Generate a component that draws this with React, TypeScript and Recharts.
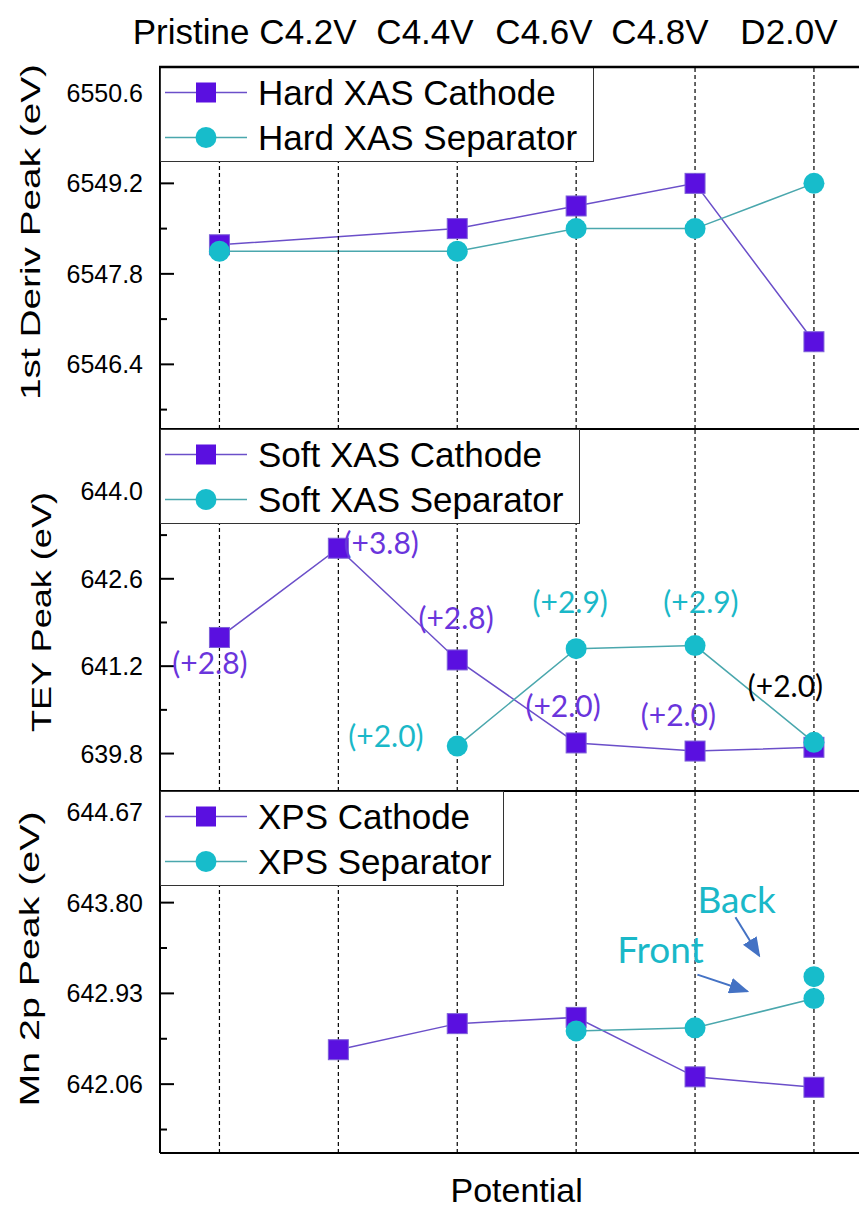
import React from 'react';
import {
  LineChart,
  Line,
  XAxis,
  YAxis,
  ReferenceLine,
  ReferenceDot,
  Legend,
} from 'recharts';

// categories along the potential axis
const categories = ['Pristine', 'C4.2V', 'C4.4V', 'C4.6V', 'C4.8V', 'D2.0V'];
const topLabels = ['Pristine', 'C4.2V', 'C4.4V', 'C4.6V', 'C4.8V', 'D2.0V'];

// hard XAS, 1st derivative peak (eV)
const hardCathode = [6548.25, null, 6548.5, 6548.85, 6549.2, 6546.75];
const hardSeparator = [6548.15, null, 6548.15, 6548.5, 6548.5, 6549.2];

// soft XAS, TEY peak (eV)
const softCathode = [641.66, 643.09, 641.3, 639.97, 639.84, 639.9];
const softSeparator = [null, null, 639.92, 641.48, 641.53, 639.98];

// XPS, Mn 2p peak (eV)
const xpsCathode = [null, 642.39, 642.64, 642.7, 642.13, 642.03];
const xpsSeparator = [null, null, null, 642.57, 642.6, 642.88];
const xpsSeparatorBack = [null, null, null, null, null, 643.09];

// y ticks
const hardMajor = [6546.4, 6547.8, 6549.2, 6550.6];
const hardMinor = [6545.7, 6547.1, 6548.5, 6549.9];
const softMajor = [639.8, 641.2, 642.6, 644.0];
const softMinor = [640.5, 641.9, 643.3, 644.7];
const xpsMajor = [642.06, 642.93, 643.8, 644.67];
const xpsMinor = [641.625, 642.495, 643.365, 644.235];

const FONT = '"Liberation Sans", Arial, sans-serif';
const NOTE_FONT = 'Lato, "Open Sans", sans-serif';
const CATHODE_FILL = '#5a10e0';
const CATHODE_LINE = '#6b4fc9';
const SEP_FILL = '#17bccb';
const SEP_LINE = '#4aa7ad';
const PURPLE_TEXT = '#6a35dc';
const CYAN_TEXT = '#1ab8c8';
const ARROW = '#4472c4';

// annotations (shift values) in panel 2, placed in data coordinates
const softNotes = [
  { x: -0.08, y: 641.25, text: '(+2.8)', color: PURPLE_TEXT },
  { x: 1.36, y: 643.17, text: '(+3.8)', color: PURPLE_TEXT },
  { x: 1.99, y: 641.97, text: '(+2.8)', color: PURPLE_TEXT },
  { x: 2.95, y: 642.23, text: '(+2.9)', color: CYAN_TEXT },
  { x: 4.05, y: 642.23, text: '(+2.9)', color: CYAN_TEXT },
  { x: 1.4, y: 640.07, text: '(+2.0)', color: CYAN_TEXT },
  { x: 2.89, y: 640.55, text: '(+2.0)', color: PURPLE_TEXT },
  { x: 3.86, y: 640.42, text: '(+2.0)', color: PURPLE_TEXT },
  { x: 4.76, y: 640.88, text: '(+2.0)', color: '#000' },
];

const xpsNotes = [
  { x: 4.35, y: 643.83, text: 'Back', color: CYAN_TEXT },
  { x: 3.71, y: 643.35, text: 'Front', color: CYAN_TEXT },
];

const xpsArrows = [
  [{ x: 4.34, y: 643.66 }, { x: 4.54, y: 643.29 }],
  [{ x: 4.02, y: 643.11 }, { x: 4.44, y: 642.95 }],
];

const PLOT_LEFT = 152;
const PLOT_W = 713.4;
const PLOT_H = 362;
const M = 3;
const AX = { stroke: '#000', strokeWidth: 2 };

const buildRows = (a: (number | null)[], b: (number | null)[], c?: (number | null)[]) =>
  categories.map((cat, i) => ({ idx: i, cat, cathode: a[i], separator: b[i], back: c ? c[i] : null }));

const SquareDot = (p: any) => {
  if (p.cx == null || p.cy == null || p.value == null) return <g key={p.key} />;
  return (
    <rect key={p.key} x={p.cx - 10} y={p.cy - 10} width={20} height={20} fill={CATHODE_FILL} stroke="#7d60d8" strokeWidth={1} />
  );
};

const CircleDot = (p: any) => {
  if (p.cx == null || p.cy == null || p.value == null) return <g key={p.key} />;
  return <circle key={p.key} cx={p.cx} cy={p.cy} r={10.5} fill={SEP_FILL} />;
};

const AxisTick = (props: any) => {
  const { x, y, payload, major, digits } = props;
  const isMajor = major.some((m: number) => Math.abs(m - payload.value) < 1e-6);
  return (
    <g>
      <line x1={x} x2={x + (isMajor ? 14 : 7)} y1={y} y2={y} stroke="#000" strokeWidth={2} />
      {isMajor && (
        <text x={x - 17} y={y} dy="0.36em" textAnchor="end" fontSize={25} fontFamily={FONT} fill="#000">
          {payload.value.toFixed(digits)}
        </text>
      )}
    </g>
  );
};

const renderLegend = (width: number) => (props: any) => {
  const items = (props.payload || []).filter((e: any) => e.type !== 'none');
  return (
    <div
      style={{
        width,
        height: 95,
        boxSizing: 'border-box',
        border: '1.5px solid #333',
        background: '#fff',
        paddingTop: 2,
      }}
    >
      {items.map((e: any, i: number) => (
        <div key={`legend-${i}`} style={{ display: 'flex', alignItems: 'center', height: 45 }}>
          <svg width={97} height={45} style={{ flexShrink: 0 }}>
            <line x1={4} x2={86} y1={22.5} y2={22.5} stroke={e.color} strokeWidth={1.5} />
            {e.type === 'square' ? (
              <rect x={35} y={12.5} width={20} height={20} fill={CATHODE_FILL} />
            ) : (
              <circle cx={45} cy={22.5} r={10.5} fill={SEP_FILL} />
            )}
          </svg>
          <span style={{ fontSize: 35, fontFamily: FONT, color: '#000', whiteSpace: 'nowrap' }}>{e.value}</span>
        </div>
      ))}
    </div>
  );
};

interface PanelProps {
  top: number;
  rows: any[];
  names: string[];
  domain: [number, number];
  major: number[];
  minor: number[];
  digits: number;
  title: string;
  titleX: number;
  titleY: number;
  titleLength: number;
  legendWidth: number;
  notes?: { x: number; y: number; text: string; color: string }[];
  noteSize?: number;
  arrows?: { x: number; y: number }[][];
  showPotential?: boolean;
}

const Panel = (p: PanelProps) => {
  const axisH = p.showPotential ? 60 : 1;
  const height = M + PLOT_H + axisH + M;
  return (
    <div style={{ position: 'absolute', left: 0, top: p.top }}>
      <LineChart
        width={PLOT_LEFT + PLOT_W}
        height={height}
        data={p.rows}
        margin={{ top: M, right: 0, bottom: M, left: 0 }}
      >
        <XAxis
          type="number"
          dataKey="idx"
          domain={[-0.5, 5.5]}
          ticks={[0, 1, 2, 3, 4, 5]}
          tick={false}
          tickLine={false}
          axisLine={AX}
          height={axisH}
          allowDataOverflow
          label={
            p.showPotential
              ? () => (
                  <text
                    x={PLOT_LEFT + PLOT_W / 2}
                    y={M + PLOT_H + 49}
                    textAnchor="middle"
                    fontSize={34}
                    fontFamily={FONT}
                    fill="#000"
                  >
                    Potential
                  </text>
                )
              : undefined
          }
        />
        <YAxis
          type="number"
          domain={p.domain}
          ticks={[...p.major, ...p.minor].sort((a, b) => a - b)}
          interval={0}
          width={PLOT_LEFT}
          tickSize={0}
          tickMargin={0}
          tickLine={false}
          axisLine={AX}
          allowDataOverflow
          tick={(t: any) => <AxisTick {...t} major={p.major} digits={p.digits} />}
          label={() => (
            <text
              transform={`translate(${p.titleX},${p.titleY}) rotate(-90)`}
              textAnchor="middle"
              fontSize={27}
              fontFamily={FONT}
              fill="#000"
              textLength={p.titleLength}
              lengthAdjust="spacingAndGlyphs"
            >
              {p.title}
            </text>
          )}
        />
        <Line
          dataKey="cathode"
          name={p.names[0]}
          legendType="square"
          stroke={CATHODE_LINE}
          strokeWidth={1.5}
          dot={SquareDot}
          activeDot={false}
          connectNulls
          isAnimationActive={false}
        />
        <Line
          dataKey="separator"
          name={p.names[1]}
          legendType="circle"
          stroke={SEP_LINE}
          strokeWidth={1.5}
          dot={CircleDot}
          activeDot={false}
          connectNulls
          isAnimationActive={false}
        />
        <Line
          dataKey="back"
          name="back"
          legendType="none"
          stroke="none"
          dot={CircleDot}
          activeDot={false}
          isAnimationActive={false}
        />
        {categories.map((c, i) => (
          <ReferenceLine key={c} x={i} stroke="#000" strokeWidth={1.2} strokeDasharray="4 3" />
        ))}
        {(p.notes || []).map((n, i) => (
          <ReferenceDot
            key={`note-${i}`}
            x={n.x}
            y={n.y}
            r={0}
            fill="none"
            stroke="none"
            label={{
              value: n.text,
              position: 'center',
              fill: n.color,
              fontSize: p.noteSize || 30,
              fontFamily: NOTE_FONT,
            }}
          />
        ))}
        {(p.arrows || []).map((seg, i) => (
          <ReferenceLine
            key={`arrow-${i}`}
            segment={seg}
            stroke={ARROW}
            strokeWidth={2}
            markerEnd="url(#arrowHead)"
          />
        ))}
        <Legend
          layout="vertical"
          align="center"
          verticalAlign="middle"
          content={renderLegend(p.legendWidth)}
          wrapperStyle={{ top: M, left: PLOT_LEFT, width: 'auto', height: 'auto' }}
        />
      </LineChart>
    </div>
  );
};

export default function App() {
  return (
    <div style={{ position: 'relative', width: 859, height: 1201, overflow: 'hidden', background: '#fff' }}>
      <svg width={0} height={0} style={{ position: 'absolute' }}>
        <defs>
          <marker
            id="arrowHead"
            viewBox="0 0 20 16"
            refX={18}
            refY={8}
            markerWidth={20}
            markerHeight={16}
            markerUnits="userSpaceOnUse"
            orient="auto"
          >
            <path d="M0,0 L20,8 L0,16 z" fill={ARROW} />
          </marker>
        </defs>
      </svg>
      <Panel
        top={56}
        rows={buildRows(hardCathode, hardSeparator)}
        names={['Hard XAS Cathode', 'Hard XAS Separator']}
        domain={[6545.4, 6551.0]}
        major={hardMajor}
        minor={hardMinor}
        digits={1}
        title="1st Deriv Peak (eV)"
        titleX={32}
        titleY={168}
        titleLength={336}
        legendWidth={434}
      />
      <Panel
        top={418}
        rows={buildRows(softCathode, softSeparator)}
        names={['Soft XAS Cathode', 'Soft XAS Separator']}
        domain={[639.2, 645.0]}
        major={softMajor}
        minor={softMinor}
        digits={1}
        title="TEY Peak (eV)"
        titleX={43}
        titleY={186}
        titleLength={240}
        legendWidth={420}
        notes={softNotes}
      />
      <Panel
        top={780}
        rows={buildRows(xpsCathode, xpsSeparator, xpsSeparatorBack)}
        names={['XPS Cathode', 'XPS Separator']}
        domain={[641.4, 644.87]}
        major={xpsMajor}
        minor={xpsMinor}
        digits={2}
        title="Mn 2p Peak (eV)"
        titleX={31}
        titleY={171}
        titleLength={295}
        legendWidth={344}
        notes={xpsNotes}
        noteSize={37}
        arrows={xpsArrows}
        showPotential
      />
      {/* category names above the chart and the top frame edge */}
      <svg width={859} height={62} style={{ position: 'absolute', left: 0, top: 0, pointerEvents: 'none' }}>
        {topLabels.map((t, i) => (
          <text
            key={t}
            x={[183, 300, 417, 536, 652, 781][i]}
            y={36}
            textAnchor="middle"
            fontSize={35}
            fontFamily={FONT}
            fill="#000"
          >
            {t}
          </text>
        ))}
        <line x1={PLOT_LEFT - 1} x2={859} y1={59} y2={59} stroke="#000" strokeWidth={2.5} />
      </svg>
    </div>
  );
}
